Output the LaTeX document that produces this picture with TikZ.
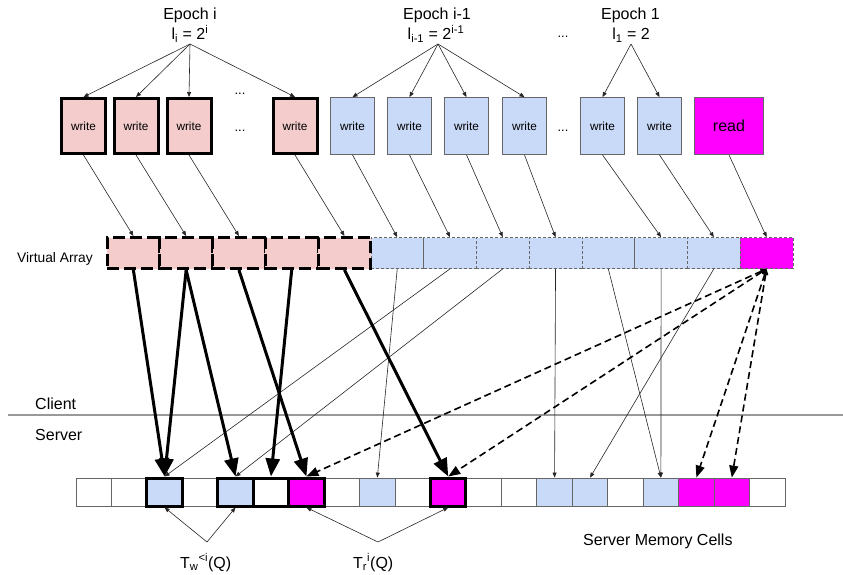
\documentclass[tikz,border=0pt]{standalone}
\usepackage{fontspec}
\setmainfont{Liberation Sans}
\usetikzlibrary{arrows.meta}
\definecolor{pinkfill}{HTML}{F4CCCC}
\definecolor{bluefill}{HTML}{C9DAF8}
\definecolor{readfill}{HTML}{FF00FF}
\definecolor{cellline}{HTML}{666666}
\definecolor{divider}{HTML}{999999}
\newcommand{\fs}[1]{\fontsize{#1}{#1}\selectfont}
\begin{document}
\begin{tikzpicture}[x=1pt,y=-1pt,
  opbox/.style={draw, inner sep=0pt, minimum width=44pt, minimum height=57pt, font=\fs{11.8}},
  pinkop/.style={opbox, fill=pinkfill, draw=black, line width=3pt, minimum height=55pt},
  blueop/.style={opbox, fill=bluefill, draw=cellline, line width=0.8pt},
  readop/.style={opbox, fill=readfill, draw=cellline, line width=0.8pt, minimum width=69pt, font=\fs{16}},
  vcell/.style={inner sep=0pt, minimum width=52.77pt, minimum height=31pt},
  vpink/.style={vcell, fill=pinkfill, draw=black, line width=3pt, dash pattern=on 12pt off 5pt},
  vblue/.style={vcell, fill=bluefill, draw=cellline, line width=0.7pt, dash pattern=on 3pt off 2pt},
  vread/.style={vcell, fill=readfill, draw=cellline, line width=0.7pt, dash pattern=on 3pt off 2pt},
  mcell/.style={inner sep=0pt, minimum width=35.45pt, minimum height=28pt, draw=cellline, line width=0.8pt},
  mbold/.style={mcell, draw=black, line width=3pt},
  lbl/.style={inner sep=0pt, font=\fs{16}},
  dots/.style={inner sep=0pt, font=\fs{13}},
  thinarrow/.style={draw=black!85, line width=0.6pt, -{Triangle[length=5pt,width=4pt]}},
  heavyarrow/.style={draw=black, line width=3pt, -{Triangle[length=18pt,width=14pt]}},
  readarrow/.style={draw=black, line width=1.6pt, dash pattern=on 7pt off 4pt,
    {Triangle[length=6pt,width=5pt]}-{Triangle[length=12pt,width=9pt]}}
]
\useasboundingbox (0,0) rectangle (843,575);

% epoch headings
\node[lbl, anchor=base] (epi) at (190,20) {Epoch i};
\node[lbl, anchor=base] (epif) at (190,40) {l\textsubscript{i} = 2\textsuperscript{i}};
\node[lbl, anchor=base] (epj) at (437,20) {Epoch i-1};
\node[lbl, anchor=base] (epjf) at (436,40) {l\textsubscript{i-1} = 2\textsuperscript{i-1}};
\node[lbl, anchor=base] (epk) at (630.5,20) {Epoch 1};
\node[lbl, anchor=base] (epkf) at (631,40) {l\textsubscript{1} = 2};
\coordinate (ea) at (190,44);
\coordinate (eb) at (438,44);
\coordinate (ec) at (631,44);
\node[dots] (dt1) at (563,37) {...};
\node[dots] (dt2) at (240,94) {...};
\node[dots] (dt3) at (240,131) {...};
\node[dots] (dt4) at (563,131) {...};

% client operations
\node[pinkop] (w1) at (83.5,126) {write};
\node[pinkop] (w2) at (136,126) {write};
\node[pinkop] (w3) at (189,126) {write};
\node[pinkop] (w4) at (295,126) {write};
\node[blueop] (b1) at (352.5,126) {write};
\node[blueop] (b2) at (409.5,126) {write};
\node[blueop] (b3) at (466.5,126) {write};
\node[blueop] (b4) at (524.5,126) {write};
\node[blueop] (b5) at (602.5,126) {write};
\node[blueop] (b6) at (659.5,126) {write};
\node[readop] (rd) at (729,126) {read};

\foreach \t in {w1,w2,w3,w4} \draw[thinarrow] (ea) -- (\t.north);
\foreach \t in {b1,b2,b3,b4} \draw[thinarrow] (eb) -- (\t.north);
\foreach \t in {b5,b6} \draw[thinarrow] (ec) -- (\t.north);

% virtual array
\node[lbl, font=\fs{13.8}, anchor=base] (va) at (55,262) {Virtual Array};
\foreach \k in {6,...,12} \node[vblue] (v\k) at ({107+52.77*(\k-0.5)},253) {};
\node[vread] (v13) at ({107+52.77*12.5},253) {};
\foreach \k in {1,...,5} \node[vpink] (v\k) at ({107+52.77*(\k-0.5)},253) {};

\foreach \s/\t in {w1/v1,w2/v2,w3/v3,w4/v5,b1/v6,b2/v7,b3/v8,b4/v9,b5/v11,b6/v12,rd/v13}
  \draw[thinarrow] (\s.south) -- (\t.north);

% client / server boundary
\coordinate (sepl) at (8,415);
\coordinate (sepr) at (843,415);
\draw[divider, line width=1.2pt] (sepl) -- (sepr);
\node[lbl, anchor=base west] (cl) at (35,409) {Client};
\node[lbl, anchor=base west] (sv) at (35,440) {Server};

% server memory cells
\foreach \k/\f in {0/white,1/white,3/white,7/white,8/bluefill,9/white,11/white,12/white,
  13/bluefill,14/bluefill,15/white,16/bluefill,17/readfill,18/readfill,19/white}
  \node[mcell, fill=\f] (m\k) at ({76+35.45*(\k+0.5)},492) {};
\foreach \k/\f in {2/bluefill,4/bluefill,5/white,6/readfill,10/readfill}
  \node[mbold, fill=\f] (m\k) at ({76+35.45*(\k+0.5)},492) {};
\node[lbl, anchor=base west] (smc) at (583,545) {Server Memory Cells};

% accesses of earlier epochs
\foreach \s/\t in {v7/m2,v8/m4,v6/m8,v9/m13,v10/m16,v11/m16,v12/m14}
  \draw[thinarrow] (\s.south) -- (\t.north);

% accesses of the current epoch
\foreach \s/\t in {v1/m2,v2/m2,v2/m4,v3/m6,v4/m5,v5/m10}
  \draw[heavyarrow] (\s.south) -- (\t.north);

% read accesses
\foreach \t in {m6,m10,m17,m18}
  \draw[readarrow] (v13.south) -- (\t.north);

% sets of touched cells
\node[lbl, anchor=base west] (tw) at (180,568) {T\textsubscript{w}\textsuperscript{<i}(Q)};
\node[lbl, anchor=base west] (tr) at (353,568) {T\textsubscript{r}\textsuperscript{i}(Q)};
\coordinate (twa) at (207,542);
\coordinate (tra) at (378,542);
\foreach \t in {m2,m4} \draw[thinarrow] (twa) -- (\t.south);
\foreach \t in {m6,m10} \draw[thinarrow] (tra) -- (\t.south);
\end{tikzpicture}
\end{document}
